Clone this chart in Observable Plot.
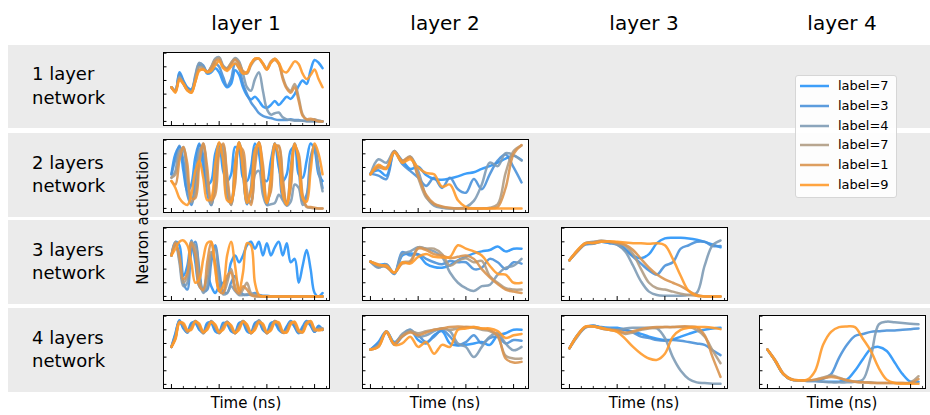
<!DOCTYPE html>
<html><head><meta charset="utf-8">
<script src="https://cdn.jsdelivr.net/npm/d3@7"></script>
<script src="https://cdn.jsdelivr.net/npm/@observablehq/plot@0.6"></script>
<style>
body{margin:0;background:#fff;font-family:"DejaVu Sans",sans-serif;color:#000;}
#wrap{position:relative;width:930px;height:415px;overflow:hidden;}
</style></head><body><div id="wrap"></div>
<script>
// ---------- data ----------
const labels = ["label=7","label=3","label=4","label=7","label=1","label=9"];
const colors = ["#2894f8","#4a91d9","#7e9bb5","#b09c84","#d9944f","#ff9a2b"];
const layerTitles = ["layer 1","layer 2","layer 3","layer 4"];
const networkTitles = [["1 layer","network"],["2 layers","network"],["3 layers","network"],["4 layers","network"]];
const xLabel = "Time (ns)";
const yLabel = "Neuron activation";
const yTicks = [0,0.2,0.4,0.6,0.8,1];
const xMajor = [0,48,96,144];
const xMinor = [12,24,36,60,72,84,108,120,132,156];
const tEnd = 152;

// row 1 (1 layer network) / layer 1
const p11 = [
 [0.5,0.45,0.72,0.6,0.5,0.47,0.62,0.82,0.8,0.7,0.72,0.78,0.72,0.58,0.5,0.55,0.75,0.68,0.5,0.38,0.32,0.36,0.3,0.22,0.2,0.24,0.3,0.24,0.3,0.36,0.33,0.4,0.52,0.6,0.55,0.75,0.9,0.86,0.78],
 [0.5,0.44,0.7,0.58,0.48,0.45,0.65,0.85,0.82,0.72,0.75,0.85,0.8,0.65,0.52,0.62,0.85,0.78,0.55,0.4,0.28,0.2,0.12,0.08,0.06,0.05,0.03,0.02,0.02,0.02,0.03,0.02,0.02,0.01,0.01,0.01,0.01,0.01,0.0],
 [0.5,0.46,0.66,0.55,0.46,0.44,0.68,0.86,0.8,0.72,0.8,0.92,0.94,0.82,0.78,0.85,0.93,0.88,0.7,0.5,0.45,0.62,0.72,0.45,0.18,0.1,0.12,0.13,0.06,0.03,0.02,0.01,0.01,0.01,0.0,0.0,0.0,0.0,0.0],
 [0.5,0.45,0.64,0.55,0.47,0.43,0.6,0.8,0.78,0.72,0.8,0.9,0.93,0.8,0.78,0.86,0.92,0.86,0.72,0.7,0.82,0.9,0.92,0.85,0.78,0.88,0.92,0.85,0.65,0.5,0.45,0.55,0.35,0.1,0.03,0.02,0.03,0.01,0.0],
 [0.5,0.44,0.62,0.56,0.46,0.42,0.58,0.76,0.76,0.73,0.78,0.88,0.9,0.8,0.76,0.84,0.9,0.84,0.74,0.72,0.84,0.92,0.92,0.84,0.76,0.86,0.9,0.84,0.62,0.48,0.42,0.5,0.3,0.08,0.03,0.04,0.02,0.0,0.0],
 [0.5,0.42,0.6,0.55,0.45,0.42,0.58,0.74,0.76,0.72,0.74,0.82,0.88,0.78,0.74,0.8,0.85,0.78,0.7,0.72,0.85,0.92,0.92,0.85,0.76,0.86,0.92,0.86,0.74,0.72,0.8,0.88,0.84,0.7,0.62,0.68,0.76,0.62,0.5]
];
// row 2 / layer 1
const p21 = [
 [0.5,0.8,0.9,0.55,0.25,0.35,0.75,0.95,0.6,0.35,0.4,0.8,0.95,0.55,0.4,0.5,0.9,0.85,0.45,0.4,0.6,0.95,0.8,0.45,0.4,0.7,0.95,0.6,0.4,0.5,0.85,0.9,0.5,0.45,0.7,0.95,0.85,0.5,0.4],
 [0.5,0.72,0.92,0.7,0.2,0.05,0.45,0.93,0.78,0.22,0.05,0.5,0.95,0.72,0.15,0.08,0.68,0.95,0.5,0.06,0.3,0.88,0.88,0.3,0.05,0.45,0.95,0.7,0.15,0.1,0.6,0.95,0.6,0.1,0.2,0.75,0.92,0.6,0.3],
 [0.45,0.55,0.85,0.85,0.4,0.08,0.25,0.85,0.9,0.35,0.05,0.35,0.95,0.85,0.25,0.05,0.55,0.97,0.65,0.1,0.1,0.5,0.55,0.2,0.05,0.06,0.08,0.2,0.12,0.04,0.1,0.35,0.3,0.05,0.15,0.7,0.9,0.55,0.25],
 [0.45,0.5,0.8,0.9,0.5,0.1,0.2,0.75,0.95,0.45,0.08,0.3,0.85,0.92,0.4,0.05,0.45,0.95,0.75,0.15,0.1,0.7,0.97,0.55,0.08,0.3,0.92,0.9,0.35,0.05,0.35,0.92,0.75,0.15,0.02,0.01,0.0,0.0,0.0],
 [0.4,0.35,0.7,0.9,0.65,0.15,0.15,0.65,0.95,0.6,0.12,0.2,0.8,0.95,0.5,0.08,0.35,0.9,0.85,0.25,0.05,0.6,0.97,0.65,0.12,0.25,0.88,0.92,0.45,0.05,0.3,0.9,0.8,0.2,0.03,0.02,0.01,0.0,0.0],
 [0.4,0.3,0.15,0.08,0.05,0.2,0.55,0.7,0.45,0.12,0.15,0.65,0.97,0.7,0.12,0.1,0.65,0.97,0.55,0.08,0.25,0.85,0.95,0.4,0.08,0.45,0.95,0.75,0.2,0.06,0.55,0.95,0.7,0.15,0.1,0.55,0.95,0.8,0.5]
];
// row 2 / layer 2
const p22 = [
 [0.51,0.56,0.48,0.82,0.7,0.58,0.61,0.49,0.43,0.42,0.44,0.47,0.51,0.53,0.58,0.62,0.67,0.73,0.77,0.71],
 [0.51,0.48,0.43,0.84,0.65,0.55,0.45,0.33,0.45,0.3,0.45,0.28,0.23,0.43,0.28,0.5,0.7,0.79,0.6,0.38],
 [0.5,0.72,0.67,0.84,0.67,0.76,0.55,0.18,0.04,0.01,0,0,0.02,0.11,0.35,0.67,0.62,0.81,0.78,0.7],
 [0.5,0.62,0.6,0.84,0.7,0.76,0.45,0.16,0.06,0.02,0,0,0,0,0,0.01,0.06,0.52,0.84,0.92],
 [0.5,0.6,0.58,0.83,0.7,0.75,0.48,0.2,0.07,0.03,0.01,0,0,0,0,0,0.02,0.3,0.8,0.93],
 [0.5,0.64,0.58,0.82,0.67,0.72,0.6,0.52,0.5,0.32,0.35,0.12,0.02,0,0,0,0,0,0,0]
];
// row 3 / layer 1
const p31 = [
 [0.6,0.8,0.75,0.3,0.45,0.82,0.5,0.15,0.1,0.3,0.15,0.05,0.15,0.2,0.25,0.5,0.6,0.5,0.6,0.75,0.8,0.7,0.8,0.6,0.78,0.6,0.72,0.8,0.6,0.78,0.5,0.55,0.2,0.45,0.68,0.4,0.05,0.0,0.05],
 [0.6,0.75,0.6,0.2,0.1,0.65,0.8,0.4,0.08,0.1,0.5,0.75,0.4,0.08,0.05,0.2,0.3,0.1,0.03,0.02,0.03,0.05,0.02,0.01,0.01,0,0,0,0,0,0,0,0,0,0,0,0,0,0],
 [0.6,0.78,0.5,0.15,0.2,0.75,0.75,0.3,0.05,0.15,0.6,0.7,0.25,0.03,0.05,0.15,0.08,0.02,0.02,0.03,0.02,0.01,0,0,0,0,0,0,0,0,0,0,0,0,0,0,0,0,0],
 [0.6,0.8,0.55,0.2,0.3,0.8,0.7,0.25,0.08,0.3,0.65,0.5,0.1,0.05,0.2,0.4,0.15,0.03,0.1,0.2,0.05,0.02,0.01,0,0,0,0,0,0,0,0,0,0,0,0,0,0,0,0],
 [0.6,0.78,0.6,0.25,0.35,0.78,0.6,0.15,0.1,0.5,0.8,0.45,0.08,0.05,0.3,0.35,0.1,0.05,0.15,0.1,0.02,0,0,0,0,0,0,0,0,0,0,0,0,0,0,0,0,0,0],
 [0.6,0.7,0.8,0.82,0.75,0.5,0.2,0.25,0.55,0.78,0.8,0.4,0.08,0.15,0.6,0.8,0.45,0.08,0.35,0.78,0.75,0.2,0.02,0,0,0,0,0,0,0,0,0,0,0,0,0,0,0,0]
];
// row 3 / layer 2
const p32 = [
 [0.51,0.46,0.47,0.33,0.6,0.63,0.61,0.48,0.43,0.42,0.46,0.53,0.58,0.63,0.66,0.68,0.73,0.66,0.7,0.7],
 [0.51,0.43,0.45,0.33,0.65,0.6,0.62,0.55,0.5,0.47,0.52,0.5,0.5,0.4,0.42,0.55,0.5,0.4,0.5,0.48],
 [0.51,0.42,0.47,0.34,0.62,0.66,0.72,0.7,0.66,0.58,0.35,0.2,0.12,0.08,0.15,0.17,0.32,0.42,0.45,0.55],
 [0.51,0.45,0.43,0.34,0.5,0.52,0.72,0.7,0.7,0.62,0.45,0.52,0.56,0.5,0.52,0.3,0.2,0.12,0.1,0.1],
 [0.51,0.47,0.43,0.35,0.48,0.5,0.7,0.68,0.62,0.6,0.56,0.58,0.6,0.55,0.4,0.28,0.18,0.1,0.07,0.05],
 [0.51,0.46,0.45,0.35,0.5,0.48,0.58,0.62,0.58,0.57,0.58,0.75,0.7,0.66,0.6,0.45,0.33,0.32,0.2,0.2]
];
// row 3 / layer 3
const p33 = [
 [0.53,0.67,0.77,0.78,0.8,0.79,0.78,0.7,0.6,0.56,0.62,0.78,0.85,0.86,0.86,0.85,0.83,0.8,0.76,0.72],
 [0.53,0.66,0.76,0.77,0.8,0.78,0.76,0.68,0.58,0.48,0.38,0.32,0.45,0.5,0.7,0.75,0.8,0.8,0.74,0.74],
 [0.53,0.66,0.78,0.8,0.81,0.8,0.76,0.66,0.45,0.22,0.07,0.02,0.01,0.01,0.01,0.02,0.05,0.45,0.75,0.82],
 [0.53,0.67,0.78,0.79,0.82,0.8,0.78,0.74,0.62,0.4,0.2,0.12,0.1,0.07,0.04,0.02,0.01,0,0,0],
 [0.53,0.66,0.77,0.79,0.81,0.8,0.79,0.76,0.68,0.55,0.42,0.32,0.25,0.2,0.15,0.08,0.02,0,0,0],
 [0.53,0.68,0.78,0.78,0.8,0.81,0.8,0.79,0.78,0.78,0.77,0.78,0.75,0.55,0.3,0.08,0.01,0,0,0]
];
// row 4 / layer 1
const p41 = [
 [0.55,0.75,0.94,0.82,0.76,0.9,0.9,0.8,0.76,0.9,0.9,0.78,0.76,0.9,0.88,0.78,0.76,0.9,0.9,0.78,0.76,0.9,0.92,0.8,0.76,0.9,0.9,0.8,0.76,0.85,0.93,0.84,0.75,0.85,0.93,0.86,0.77,0.86,0.8],
 [0.55,0.73,0.93,0.84,0.76,0.88,0.92,0.82,0.76,0.87,0.92,0.81,0.76,0.88,0.9,0.79,0.76,0.88,0.92,0.8,0.76,0.88,0.93,0.81,0.76,0.87,0.92,0.83,0.76,0.83,0.92,0.85,0.76,0.82,0.92,0.87,0.77,0.85,0.8],
 [0.55,0.7,0.92,0.86,0.77,0.84,0.93,0.85,0.75,0.83,0.93,0.85,0.75,0.85,0.92,0.83,0.75,0.85,0.93,0.84,0.75,0.84,0.94,0.85,0.75,0.83,0.93,0.87,0.76,0.79,0.9,0.89,0.77,0.77,0.9,0.91,0.79,0.82,0.82],
 [0.55,0.68,0.92,0.87,0.77,0.83,0.93,0.86,0.75,0.83,0.92,0.85,0.75,0.84,0.92,0.84,0.75,0.84,0.93,0.85,0.75,0.83,0.93,0.86,0.75,0.82,0.93,0.88,0.76,0.78,0.91,0.9,0.77,0.78,0.91,0.92,0.79,0.81,0.82],
 [0.55,0.68,0.91,0.88,0.78,0.82,0.92,0.87,0.76,0.82,0.92,0.86,0.76,0.83,0.91,0.85,0.75,0.83,0.92,0.86,0.75,0.82,0.92,0.87,0.75,0.81,0.92,0.89,0.76,0.77,0.9,0.9,0.78,0.77,0.9,0.92,0.8,0.8,0.81],
 [0.55,0.66,0.9,0.9,0.8,0.8,0.92,0.89,0.77,0.8,0.91,0.88,0.77,0.8,0.9,0.87,0.76,0.8,0.92,0.88,0.76,0.8,0.91,0.89,0.77,0.79,0.91,0.91,0.78,0.76,0.88,0.92,0.8,0.76,0.88,0.93,0.82,0.79,0.8]
];
// row 4 / layer 2
const p42 = [
 [0.51,0.62,0.78,0.62,0.72,0.8,0.65,0.6,0.72,0.78,0.6,0.57,0.58,0.6,0.62,0.58,0.72,0.75,0.8,0.8],
 [0.51,0.6,0.76,0.58,0.7,0.78,0.72,0.62,0.7,0.8,0.7,0.58,0.62,0.72,0.6,0.68,0.7,0.6,0.65,0.64],
 [0.51,0.58,0.78,0.6,0.74,0.8,0.7,0.72,0.78,0.82,0.78,0.6,0.55,0.4,0.55,0.7,0.75,0.6,0.5,0.55],
 [0.51,0.56,0.77,0.6,0.72,0.78,0.75,0.78,0.8,0.82,0.8,0.82,0.84,0.83,0.8,0.78,0.7,0.42,0.38,0.38],
 [0.51,0.55,0.76,0.6,0.7,0.76,0.72,0.76,0.8,0.82,0.84,0.85,0.84,0.84,0.82,0.8,0.72,0.38,0.32,0.33],
 [0.51,0.55,0.78,0.58,0.6,0.7,0.55,0.62,0.45,0.58,0.55,0.8,0.82,0.84,0.82,0.82,0.78,0.68,0.72,0.74]
];
// row 4 / layer 3
const p43 = [
 [0.53,0.72,0.84,0.86,0.84,0.83,0.83,0.8,0.77,0.74,0.7,0.67,0.65,0.66,0.7,0.74,0.78,0.8,0.82,0.83],
 [0.53,0.72,0.84,0.86,0.83,0.81,0.8,0.8,0.76,0.7,0.68,0.65,0.64,0.65,0.64,0.62,0.6,0.58,0.5,0.43],
 [0.53,0.7,0.83,0.86,0.83,0.82,0.8,0.82,0.83,0.83,0.83,0.82,0.68,0.4,0.2,0.08,0.03,0.02,0.01,0.01],
 [0.53,0.71,0.84,0.85,0.82,0.8,0.78,0.74,0.76,0.8,0.82,0.83,0.84,0.84,0.84,0.84,0.8,0.7,0.5,0.31],
 [0.53,0.72,0.84,0.85,0.82,0.8,0.79,0.76,0.78,0.81,0.83,0.84,0.84,0.84,0.85,0.85,0.84,0.72,0.4,0.11],
 [0.53,0.72,0.85,0.85,0.83,0.8,0.77,0.67,0.55,0.45,0.38,0.36,0.45,0.7,0.8,0.83,0.84,0.84,0.83,0.81]
];
// row 4 / layer 4
const p44 = [
 [0.51,0.34,0.15,0.07,0.06,0.05,0.05,0.04,0.04,0.04,0.07,0.2,0.37,0.52,0.55,0.49,0.32,0.15,0.04,0.04],
 [0.51,0.34,0.15,0.07,0.06,0.06,0.06,0.08,0.15,0.39,0.58,0.71,0.74,0.77,0.78,0.79,0.79,0.8,0.81,0.82],
 [0.51,0.34,0.15,0.07,0.06,0.05,0.05,0.04,0.03,0.03,0.03,0.04,0.07,0.4,0.88,0.92,0.91,0.9,0.89,0.88],
 [0.51,0.35,0.16,0.07,0.06,0.06,0.07,0.1,0.13,0.1,0.06,0.04,0.03,0.03,0.02,0.02,0.02,0.02,0.03,0.12],
 [0.51,0.35,0.16,0.08,0.06,0.06,0.07,0.09,0.11,0.09,0.06,0.04,0.03,0.02,0.02,0.02,0.02,0.02,0.02,0.08],
 [0.51,0.34,0.15,0.07,0.06,0.07,0.2,0.58,0.77,0.84,0.85,0.84,0.67,0.49,0.24,0.07,0.02,0.01,0.01,0.01]
];

const panels = [[p11],[p21,p22],[p31,p32,p33],[p41,p42,p43,p44]];

// ---------- layout ----------
const wrap = document.getElementById("wrap");
function el(tag, style, text, parent) {
  const e = document.createElement(tag);
  Object.assign(e.style, style);
  if (text != null) e.textContent = text;
  (parent || wrap).appendChild(e);
  return e;
}
const bands = [[45,128],[133,217],[220,304],[308,392]];
const colLeft = [163, 362, 561, 759];
const rowTop = [52, 139, 227, 315];
const PW = 166, PH = 73;
const keys = labels.map((d, i) => "s" + i);

bands.forEach(([t, b], r) => {
  const band = el("div", {position:"absolute", left:"8px", width:"922px", top:t+"px", height:(b-t)+"px",
    background:"#ebebeb", display:"flex", alignItems:"center"});
  const lab = el("div", {paddingLeft:"24px", fontSize:"18px", lineHeight:"23.4px", marginTop:"-2px"}, null, band);
  networkTitles[r].forEach(s => el("div", {whiteSpace:"nowrap"}, s, lab));
});

layerTitles.forEach((s, c) => {
  el("div", {position:"absolute", left:(colLeft[c] + PW/2)+"px", top:"13px", transform:"translateX(-50%)",
    fontSize:"20px", lineHeight:"20px", whiteSpace:"nowrap"}, s);
  el("div", {position:"absolute", left:(colLeft[c] + PW/2)+"px", top:"396px", transform:"translateX(-50%)",
    fontSize:"15px", lineHeight:"15px", whiteSpace:"nowrap"}, xLabel);
});

el("div", {position:"absolute", left:"143px", top:"218px", transform:"translate(-50%,-50%) rotate(-90deg)",
  fontSize:"15px", lineHeight:"15px", whiteSpace:"nowrap"}, yLabel);

const Y0 = -0.06, Y1 = 1.01, X0 = -8, X1 = 159;
panels.forEach((row, r) => row.forEach((series, c) => {
  const rows = [];
  series.forEach((vals, k) => {
    const n = vals.length;
    vals.forEach((v, i) => rows.push({t: i * tEnd / (n - 1), v, k: keys[k]}));
  });
  const svg = Plot.plot({
    width: PW + 2, height: PH + 2,
    marginLeft: 1, marginRight: 1, marginTop: 1, marginBottom: 1,
    style: {background: "transparent", overflow: "visible"},
    x: {domain: [X0, X1], axis: null},
    y: {domain: [Y0, Y1], axis: null},
    color: {domain: keys, range: colors},
    marks: [
      Plot.frame({fill: "white", stroke: null}),
      Plot.line(rows, {x: "t", y: "v", z: "k", stroke: "k", strokeWidth: 2.5, strokeOpacity: 0.9,
        curve: "catmull-rom", strokeLinejoin: "round", strokeLinecap: "round"}),
      Plot.ruleY(yTicks, {y: d => d, x1: X0, x2: X0 + 3.5, stroke: "black", strokeWidth: 1}),
      Plot.ruleX(xMajor, {x: d => d, y1: Y0, y2: Y0 + 0.058, stroke: "black", strokeWidth: 1}),
      Plot.ruleX(xMinor, {x: d => d, y1: Y0, y2: Y0 + 0.03, stroke: "black", strokeWidth: 0.8}),
      Plot.frame({stroke: "black", strokeWidth: 1})
    ]
  });
  Object.assign(svg.style, {position: "absolute", left: (colLeft[c] - 1) + "px", top: (rowTop[r] - 1) + "px"});
  wrap.appendChild(svg);
}));

// ---------- legend ----------
const leg = el("div", {position:"absolute", left:"795px", top:"75px", width:"102px", height:"123px",
  background:"rgba(255,255,255,0.9)", border:"1px solid #d6d6d6", borderRadius:"3px", boxSizing:"border-box"});
labels.forEach((s, i) => {
  const y = 10 + 19.8 * i;
  const sw = document.createElementNS("http://www.w3.org/2000/svg", "svg");
  sw.setAttribute("width", "30"); sw.setAttribute("height", "6");
  Object.assign(sw.style, {position:"absolute", left:"4px", top:(y - 3)+"px"});
  const ln = document.createElementNS("http://www.w3.org/2000/svg", "line");
  ln.setAttribute("x1", "0"); ln.setAttribute("x2", "29"); ln.setAttribute("y1", "3"); ln.setAttribute("y2", "3");
  ln.setAttribute("stroke", colors[i]); ln.setAttribute("stroke-width", "2.5"); ln.setAttribute("stroke-opacity", "0.9");
  sw.appendChild(ln); leg.appendChild(sw);
  el("div", {position:"absolute", left:"42px", top:(y - 8)+"px", fontSize:"13px", lineHeight:"16px", whiteSpace:"nowrap"}, s, leg);
});
</script></body></html>
